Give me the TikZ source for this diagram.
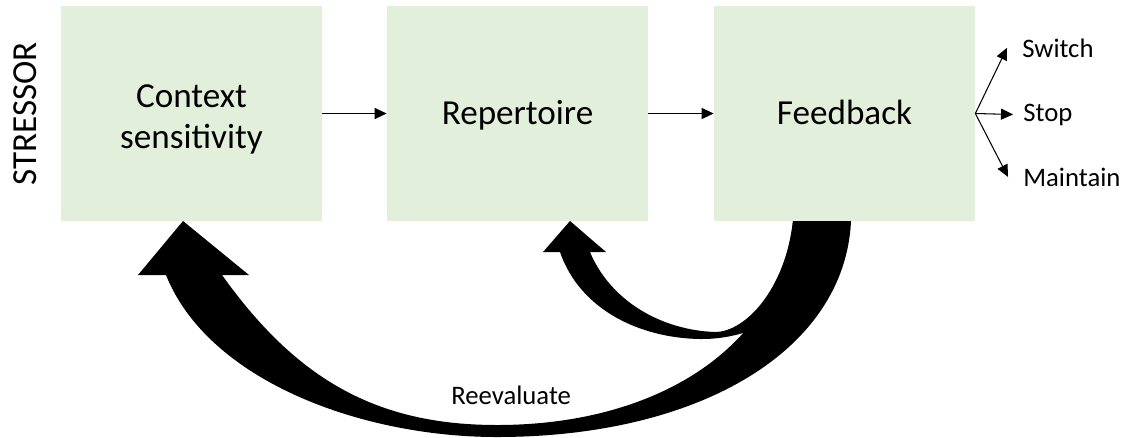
\documentclass[tikz,border=0pt]{standalone}
\usepackage{fontspec}
\setmainfont{Carlito}
\usetikzlibrary{arrows.meta}
\definecolor{boxGreen}{HTML}{E2EFDA}

\begin{document}
\begin{tikzpicture}[x=0.02cm, y=-0.02cm,
        box/.style={fill=boxGreen, minimum width=5.22cm, minimum height=4.3cm, align=center,
            font=\fontsize{20}{23.2}\selectfont},
        lbl/.style={inner sep=0pt, font=\fontsize{15.2}{18}\selectfont},
        arr/.style={line width=0.6pt, -{Triangle[length=0.24cm, width=0.22cm]}}]

        \useasboundingbox (0,0) rectangle (1128,437);

        \node[box] (C) at (191.5,113.5) {\rule{0pt}{20pt}Context\\sensitivity};
        \node[box] (R) at (517.5,113.5) {\rule[-7pt]{0pt}{27pt}Repertoire};
        \node[box] (F) at (844.5,113.5) {\rule[-7pt]{0pt}{27pt}Feedback};

        \node[rotate=90, font=\fontsize{20}{23.2}\selectfont] (S) at (25,114) {STRESSOR};

        \node[lbl, anchor=base west] (Sw) at (1022,57) {Switch};
        \node[lbl, anchor=base west] (St) at (1023,121) {Stop};
        \node[lbl, anchor=base west] (Ma) at (1023,186) {Maintain};
        \node[lbl, anchor=base west] (Re) at (451,404) {Reevaluate};

        \draw[arr] (C) -- (R);
        \draw[arr] (R) -- (F);
        \draw[arr] (F.east) -- ([xshift=-0.3cm]Sw.west);
        \draw[arr] (F.east) -- ([xshift=-0.2cm]St.west);
        \draw[arr] (F.east) -- ([xshift=-0.3cm]Ma.west);

        % reevaluate loop back to context sensitivity
        \fill (851,221) .. controls (845,350) and (700,437) .. (497,437)
            .. controls (360,437) and (208,380) .. (166,275)
            -- (138,275) -- (183,221) -- (249,275) -- (222,275)
            .. controls (297,380) and (377,425) .. (497,425)
            .. controls (660,425) and (780,345) .. (793,221) -- cycle;

        % short loop back to repertoire
        \fill (851,221) .. controls (830,300) and (760,340) .. (700,339)
            .. controls (640,338) and (580,310) .. (560,252)
            -- (543,252) -- (570,221) -- (606,252) -- (590,252)
            .. controls (610,300) and (660,330) .. (715,332)
            .. controls (745,332) and (785,290) .. (793,221) -- cycle;
\end{tikzpicture}
\end{document}
